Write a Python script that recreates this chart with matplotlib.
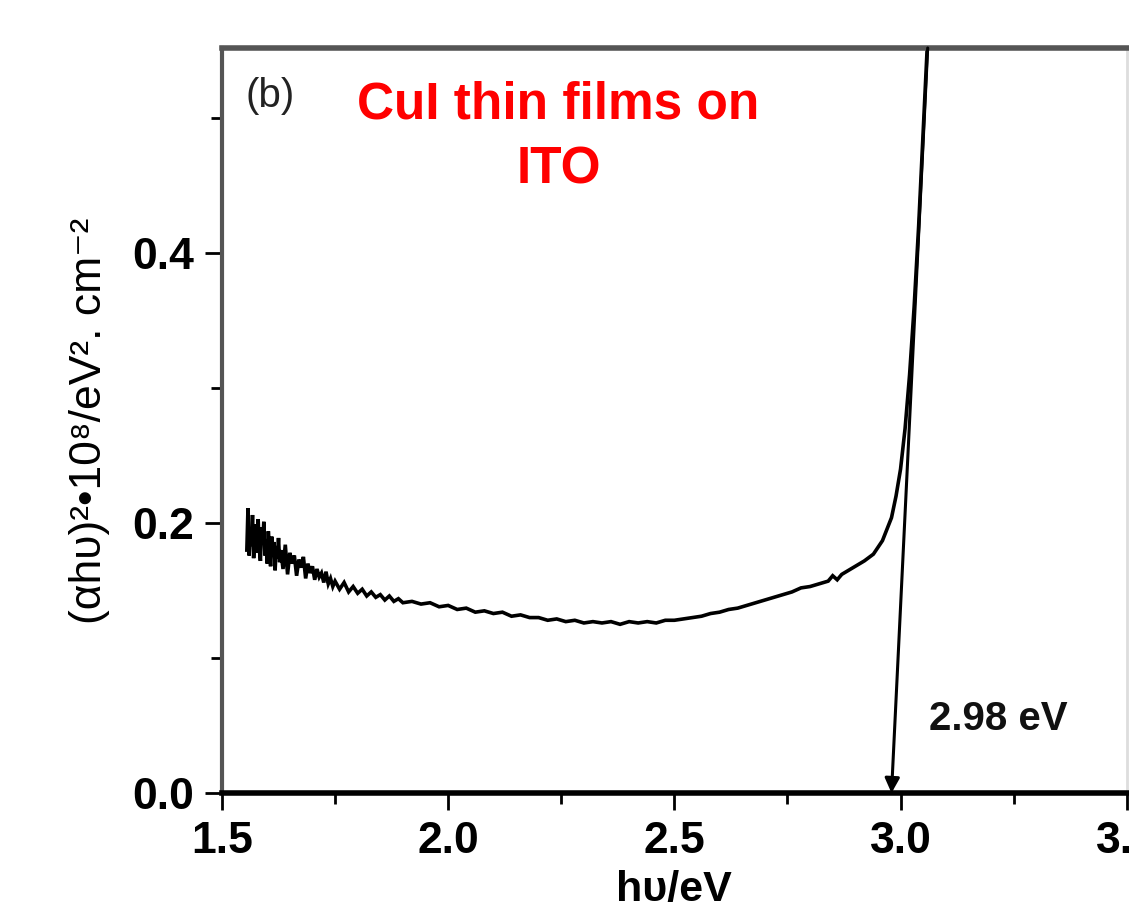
import matplotlib.pyplot as plt
from matplotlib.ticker import MultipleLocator

# photon energy (eV) and (alpha h nu)^2
energy = [1.555, 1.5575, 1.56, 1.5625, 1.565, 1.5675, 1.57, 1.5725, 1.575, 1.5775,
          1.58, 1.5825, 1.585, 1.5875, 1.59, 1.5925, 1.595, 1.5975, 1.60, 1.6025,
          1.605, 1.6075, 1.61, 1.6125, 1.615, 1.6175, 1.62, 1.6225, 1.625, 1.6275,
          1.63, 1.635, 1.64, 1.645, 1.65, 1.655, 1.66, 1.665, 1.67, 1.675,
          1.68, 1.685, 1.69, 1.695, 1.70, 1.705, 1.71, 1.715, 1.72, 1.725,
          1.73, 1.735, 1.74, 1.745, 1.75, 1.76, 1.77, 1.78, 1.79, 1.80,
          1.81, 1.82, 1.83, 1.84, 1.85, 1.86, 1.87, 1.88, 1.89, 1.90,
          1.92, 1.94, 1.96, 1.98, 2.00,
          2.02, 2.04, 2.06, 2.08, 2.10, 2.12, 2.14, 2.16, 2.18, 2.20,
          2.22, 2.24, 2.26, 2.28, 2.30, 2.32, 2.34, 2.36, 2.38, 2.40,
          2.42, 2.44, 2.46, 2.48, 2.50, 2.52, 2.54, 2.56, 2.58, 2.60,
          2.62, 2.64, 2.66, 2.68, 2.70, 2.72, 2.74, 2.76, 2.78, 2.80,
          2.82, 2.84, 2.85, 2.86, 2.87, 2.88, 2.90, 2.92, 2.94,
          2.96, 2.98, 2.99, 3.00, 3.01, 3.02, 3.03, 3.04, 3.05, 3.06]
absorb = [0.180, 0.211, 0.176, 0.195, 0.183, 0.206, 0.174, 0.190, 0.199, 0.178,
          0.203, 0.181, 0.172, 0.197, 0.185, 0.201, 0.176, 0.188, 0.170, 0.194,
          0.182, 0.168, 0.190, 0.177, 0.186, 0.165, 0.183, 0.174, 0.189, 0.171,
          0.180, 0.166, 0.184, 0.162, 0.178, 0.170, 0.176, 0.161, 0.173, 0.167,
          0.175, 0.159, 0.170, 0.163, 0.168, 0.158, 0.166, 0.160, 0.163, 0.156,
          0.164, 0.155, 0.159, 0.153, 0.157, 0.151, 0.156, 0.149, 0.153, 0.148,
          0.151, 0.146, 0.149, 0.145, 0.147, 0.143, 0.146, 0.142, 0.144, 0.141,
          0.142, 0.140, 0.141, 0.138, 0.139,
          0.136, 0.137, 0.134, 0.135, 0.133, 0.134, 0.131, 0.132, 0.130, 0.130,
          0.128, 0.129, 0.127, 0.128, 0.126, 0.127, 0.126, 0.127, 0.125, 0.127,
          0.126, 0.127, 0.126, 0.128, 0.128, 0.129, 0.130, 0.131, 0.133, 0.134,
          0.136, 0.137, 0.139, 0.141, 0.143, 0.145, 0.147, 0.149, 0.152, 0.153,
          0.155, 0.157, 0.161, 0.158, 0.162, 0.164, 0.168, 0.172, 0.177,
          0.187, 0.204, 0.220, 0.240, 0.270, 0.310, 0.360, 0.420, 0.490, 0.560]

# tangent (Tauc extrapolation) end points
tangent_x = [3.06, 2.98]
tangent_y = [0.552, 0.0]

plt.rcParams['font.family'] = ['Liberation Sans', 'DejaVu Sans']

fig = plt.figure(figsize=(11.29, 9.13), dpi=100)
ax = fig.add_axes([0.1966, 0.1314, 0.8014, 0.816])

ax.plot(energy, absorb, color='black', lw=2.6, solid_joinstyle='miter')
ax.annotate('', xy=(tangent_x[1], tangent_y[1]), xytext=(tangent_x[0], tangent_y[0]),
            arrowprops=dict(arrowstyle='-|>', color='black', lw=2.2,
                            mutation_scale=22, shrinkA=0, shrinkB=0))

ax.set_xlim(1.5, 3.5)
ax.set_ylim(0, 0.552)
ax.xaxis.set_major_locator(MultipleLocator(0.5))
ax.xaxis.set_minor_locator(MultipleLocator(0.25))
ax.set_yticks([0.0, 0.2, 0.4])
ax.yaxis.set_minor_locator(MultipleLocator(0.1))

ax.tick_params(which='major', direction='out', length=12, width=2, labelsize=32, pad=8)
ax.tick_params(which='minor', direction='out', length=8, width=2)
for lab in ax.get_xticklabels() + ax.get_yticklabels():
    lab.set_fontweight('bold')

ax.spines['left'].set_color('#555555')
ax.spines['left'].set_linewidth(3)
ax.spines['top'].set_color('#555555')
ax.spines['top'].set_linewidth(4)
ax.spines['bottom'].set_color('black')
ax.spines['bottom'].set_linewidth(4)
ax.spines['right'].set_color('#dddddd')
ax.spines['right'].set_linewidth(2)

ax.set_xlabel('hυ/eV', fontsize=31, fontweight='bold', labelpad=6)
ax.set_ylabel('(αhυ)²•10⁸/eV². cm⁻²', fontsize=32, labelpad=16)

ax.text(0.053, 0.935, '(b)', transform=ax.transAxes, fontsize=29,
        color='#222222', ha='center', va='center')
ax.text(0.372, 0.88, 'CuI thin films on\nITO', transform=ax.transAxes,
        fontsize=37, fontweight='bold', color='#ff0000', ha='center',
        va='center', linespacing=1.4)
ax.text(0.858, 0.1, '2.98 eV', transform=ax.transAxes, fontsize=29,
        fontweight='bold', color='#111111', ha='center', va='center')

fig.savefig('out.png', dpi=100)
